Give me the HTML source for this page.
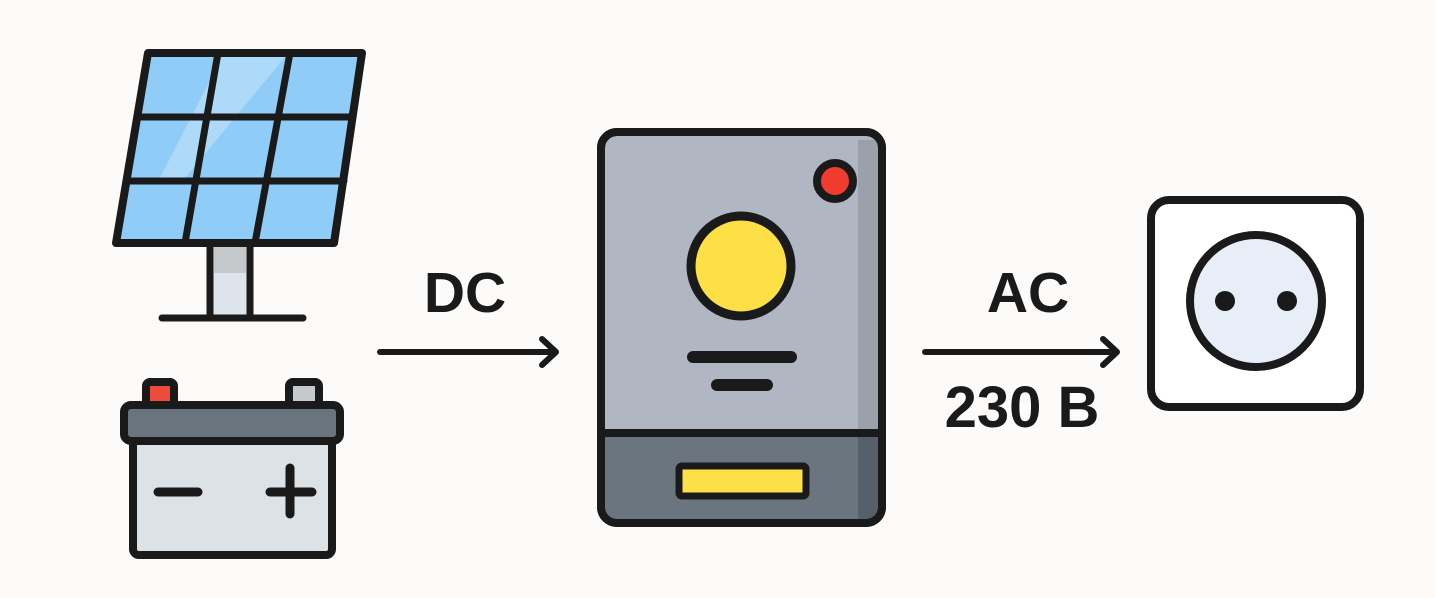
<!DOCTYPE html>
<html><head><meta charset="utf-8"><style>html,body{margin:0;padding:0;background:#fcfbf9}svg{display:block}</style></head>
<body>
<svg width="1435" height="598" viewBox="0 0 1435 598" xmlns="http://www.w3.org/2000/svg">
<rect width="1435" height="598" fill="#fcfbf9"/>
<g stroke="#1a1a1a" stroke-linejoin="round" stroke-linecap="round">
<!-- solar panel -->
<rect x="210" y="243" width="40" height="75" fill="#dde4ec" stroke-width="7"/>
<rect x="214" y="247" width="32" height="26" fill="#c5c9cc" stroke="none"/>
<line x1="162" y1="318" x2="303" y2="318" stroke-width="7"/>
<polygon points="148,53 362,53 334,243 116,243" fill="#8fcdf8" stroke-width="8"/>
<polygon points="222,57 285,57 185,178 160,178" fill="#b5ddfa" stroke="none" opacity="0.8"/>
<line x1="218" y1="53" x2="185" y2="243" stroke-width="7"/>
<line x1="290" y1="53" x2="255" y2="243" stroke-width="7"/>
<line x1="138" y1="117" x2="353" y2="117" stroke-width="7"/>
<line x1="127" y1="181" x2="344" y2="181" stroke-width="7"/>
<!-- battery -->
<rect x="146" y="382" width="28" height="26" rx="4" fill="#f04a3a" stroke-width="8"/>
<rect x="289" y="382" width="30" height="26" rx="4" fill="#c5c9cc" stroke-width="8"/>
<rect x="133" y="440" width="199" height="115" rx="6" fill="#dde2e7" stroke-width="8"/>
<rect x="124" y="405" width="216" height="36" rx="7" fill="#6a747c" stroke-width="8"/>
<line x1="158" y1="492" x2="198" y2="492" stroke-width="9"/>
<line x1="270" y1="492" x2="312" y2="492" stroke-width="9"/>
<line x1="290" y1="468" x2="290" y2="514" stroke-width="9"/>
<!-- inverter -->
<rect x="601" y="132" width="281" height="391" rx="16" fill="#b0b7c2" stroke-width="8"/>
<path d="M603 433 H880 V505 Q880 521 864 521 H619 Q603 521 603 505 Z" fill="#6b7580" stroke="none"/>
<rect x="858" y="140" width="20" height="290" fill="#9aa1ab" stroke="none"/>
<rect x="858" y="437" width="20" height="82" fill="#56606a" stroke="none"/>
<rect x="601" y="132" width="281" height="391" rx="16" fill="none" stroke-width="8"/>
<line x1="603" y1="433" x2="880" y2="433" stroke-width="8"/>
<circle cx="835" cy="181" r="18" fill="#f03b2f" stroke-width="8"/>
<circle cx="741" cy="266" r="50" fill="#fde046" stroke-width="9"/>
<line x1="693" y1="357" x2="791" y2="357" stroke-width="12"/>
<line x1="717" y1="385" x2="767" y2="385" stroke-width="12"/>
<rect x="679" y="466" width="127" height="30" rx="3" fill="#fde046" stroke-width="7"/>
<!-- socket -->
<rect x="1151" y="200" width="209" height="207" rx="18" fill="#ffffff" stroke-width="8"/>
<circle cx="1256" cy="301" r="66" fill="#e8eef8" stroke-width="8"/>
<circle cx="1225" cy="301" r="10" fill="#1a1a1a" stroke="none"/>
<circle cx="1287" cy="301" r="10" fill="#1a1a1a" stroke="none"/>
<!-- arrows -->
<line x1="380" y1="352" x2="554" y2="352" stroke-width="6"/>
<polyline points="542,339 556,352 542,365" fill="none" stroke-width="6"/>
<line x1="925" y1="352" x2="1115" y2="352" stroke-width="6"/>
<polyline points="1103,339 1117,352 1103,365" fill="none" stroke-width="6"/>
</g>
<g font-family="Liberation Sans, sans-serif" font-weight="bold" fill="#1a1a1a" text-anchor="middle">
<text x="465" y="312" font-size="57">DC</text>
<text x="1028" y="312" font-size="57">AC</text>
<text x="1022" y="427" font-size="58">230 B</text>
</g>
</svg>
</body></html>
